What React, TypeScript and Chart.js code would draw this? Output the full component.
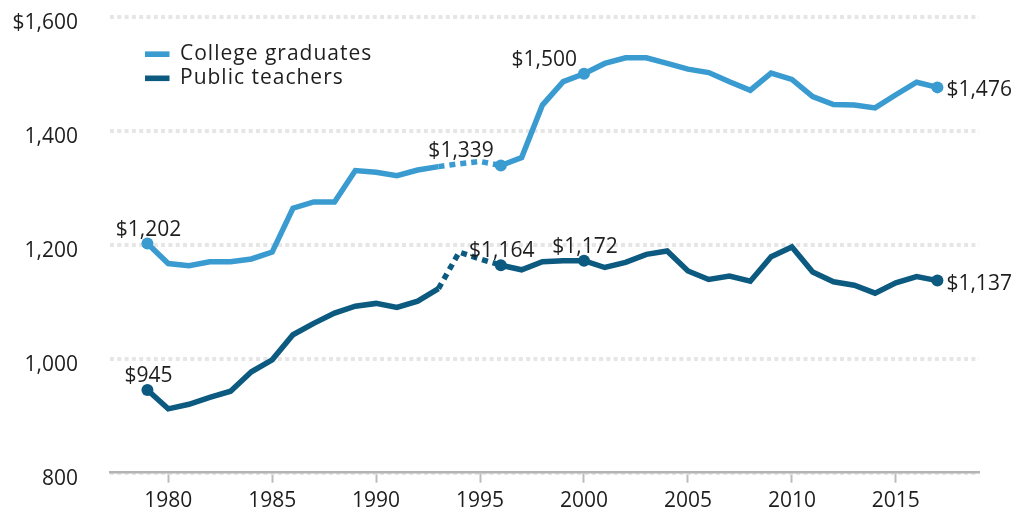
import { useEffect, useRef } from "react";
import { Chart, registerables } from "chart.js";

Chart.register(...registerables);

const years = [
  1979, 1980, 1981, 1982, 1983, 1984, 1985, 1986, 1987, 1988, 1989, 1990, 1991,
  1992, 1993, 1994, 1995, 1996, 1997, 1998, 1999, 2000, 2001, 2002, 2003, 2004,
  2005, 2006, 2007, 2008, 2009, 2010, 2011, 2012, 2013, 2014, 2015, 2016, 2017,
];

const collegeGraduates = [
  1202, 1167, 1163, 1170, 1170, 1175, 1187, 1264, 1275, 1275, 1330, 1327, 1321,
  1331, 1337, 1342, 1346, 1339, 1353, 1445, 1486, 1500, 1518, 1528, 1528, 1518,
  1508, 1502, 1486, 1471, 1501, 1490, 1460, 1446, 1445, 1440, 1463, 1485, 1476,
];

const publicTeachers = [
  945, 912, 920, 932, 943, 977, 998, 1042, 1062, 1080, 1092, 1097, 1090,
  1101, 1123, 1187, 1175, 1164, 1156, 1170, 1172, 1172, 1160, 1169, 1183, 1189,
  1154, 1139, 1145, 1136, 1179, 1196, 1152, 1135, 1129, 1115, 1133, 1144, 1137,
];

const seriesNames = ["College graduates", "Public teachers"];
const seriesColors = ["#3a9bd1", "#0c5a80"];

const xTicks = [1980, 1985, 1990, 1995, 2000, 2005, 2010, 2015];
const yTicks = [800, 1000, 1200, 1400, 1600];

const markerYears = [1979, 1996, 2000, 2017];
const labelPlacement = [
  ["above", "left", "left", "right"],
  ["above", "above", "above", "right"],
];
const dashedStart = 1993;
const dashedEnd = 1996;

const FONT = '"Open Sans", sans-serif';
const TEXT = "#1e1e1e";

const annotate = {
  id: "annotate",
  afterDatasetsDraw(chart: any) {
    const ctx = chart.ctx;
    ctx.save();
    ctx.fillStyle = TEXT;
    ctx.font = `21px ${FONT}`;
    chart.data.datasets.forEach((ds: any, di: number) => {
      const meta = chart.getDatasetMeta(di);
      markerYears.forEach((yr, k) => {
        const idx = years.indexOf(yr);
        const pt = meta.data[idx];
        const v = ds.data[idx].y;
        const text = "$" + v.toLocaleString("en-US");
        const place = labelPlacement[di][k];
        if (place === "above") {
          ctx.textAlign = "center";
          ctx.textBaseline = "alphabetic";
          ctx.fillText(text, pt.x + 1, pt.y - 8);
        } else if (place === "left") {
          ctx.textAlign = "right";
          ctx.textBaseline = "alphabetic";
          ctx.fillText(text, pt.x - 7, pt.y - 8);
        } else {
          ctx.textAlign = "left";
          ctx.textBaseline = "middle";
          ctx.fillText(text, pt.x + 9, pt.y + 3);
        }
      });
    });
    // legend
    const area = chart.chartArea;
    const lx = area.left + 35;
    const rows = [area.top + 37.5, area.top + 61.6];
    seriesNames.forEach((name, i) => {
      ctx.fillStyle = seriesColors[i];
      ctx.fillRect(lx, rows[i] - 2.8, 24.5, 5.6);
      ctx.fillStyle = TEXT;
      ctx.textAlign = "left";
      ctx.textBaseline = "middle";
      ctx.font = `21px ${FONT}`;
      (ctx as any).letterSpacing = "1px";
      ctx.fillText(name, lx + 35, rows[i]);
      (ctx as any).letterSpacing = "0px";
    });
    ctx.restore();
  },
};

export default function App() {
  const ref = useRef<HTMLCanvasElement | null>(null);

  useEffect(() => {
    if (!ref.current) return;
    const makeDataset = (i: number, values: number[]) => ({
      label: seriesNames[i],
      data: years.map((x, j) => ({ x, y: values[j] })),
      borderColor: seriesColors[i],
      backgroundColor: seriesColors[i],
      pointBackgroundColor: seriesColors[i],
      borderWidth: 5.5,
      pointBorderWidth: 0,
      pointRadius: (c: any) => (markerYears.includes(years[c.dataIndex]) ? 6 : 0),
      pointHoverRadius: (c: any) => (markerYears.includes(years[c.dataIndex]) ? 6 : 0),
      borderCapStyle: "butt",
      borderJoinStyle: "miter",
      tension: 0,
      segment: {
        borderDash: (c: any) =>
          c.p0.parsed.x >= dashedStart && c.p1.parsed.x <= dashedEnd ? [6, 5] : undefined,
      },
    });

    const chart = new Chart(ref.current, {
      type: "line",
      data: {
        datasets: [makeDataset(0, collegeGraduates), makeDataset(1, publicTeachers)],
      },
      options: {
        animation: false,
        responsive: false,
        layout: { padding: { top: 16.7, right: 39, left: 0, bottom: 0 } },
        plugins: { legend: { display: false }, tooltip: { enabled: false } },
        font: { family: FONT },
        scales: {
          x: {
            type: "linear",
            min: 1977.2,
            max: 2019,
            afterBuildTicks: (s: any) => {
              s.ticks = xTicks.map((v) => ({ value: v }));
            },
            afterFit: (s: any) => {
              s.height = 42.3;
              s.paddingLeft = 0;
              s.paddingRight = 0;
            },
            grid: {
              drawOnChartArea: false,
              drawTicks: true,
              tickLength: 10,
              tickColor: "#bcbcbc",
              tickWidth: 2,
            },
            border: { display: true, color: "#b4b4b4", width: 2.5 },
            ticks: {
              color: TEXT,
              font: { family: FONT, size: 21 },
              padding: 6,
              maxRotation: 0,
              autoSkip: false,
              callback: (v: any) => String(v),
            },
          },
          y: {
            type: "linear",
            min: 800,
            max: 1600,
            afterBuildTicks: (s: any) => {
              s.ticks = yTicks.map((v) => ({ value: v }));
            },
            afterFit: (s: any) => {
              s.width = 110;
              s.paddingTop = 0;
              s.paddingBottom = 0;
            },
            grid: {
              drawTicks: false,
              color: "#e6e6e6",
              lineWidth: 4,
            },
            border: { display: false, dash: [4, 3.3] },
            ticks: {
              color: TEXT,
              font: { family: FONT, size: 21 },
              padding: 32,
              labelOffset: 6,
              callback: (v: any) =>
                v === 1600 ? "$" + v.toLocaleString("en-US") : v.toLocaleString("en-US"),
            },
          },
        },
      },
      plugins: [annotate],
    } as any);

    return () => chart.destroy();
  }, []);

  return (
    <div style={{ position: "absolute", left: 0, top: 0, width: 1018, height: 515, background: "#fff" }}>
      <canvas ref={ref} width={1018} height={515} style={{ width: 1018, height: 515, display: "block" }} />
    </div>
  );
}
